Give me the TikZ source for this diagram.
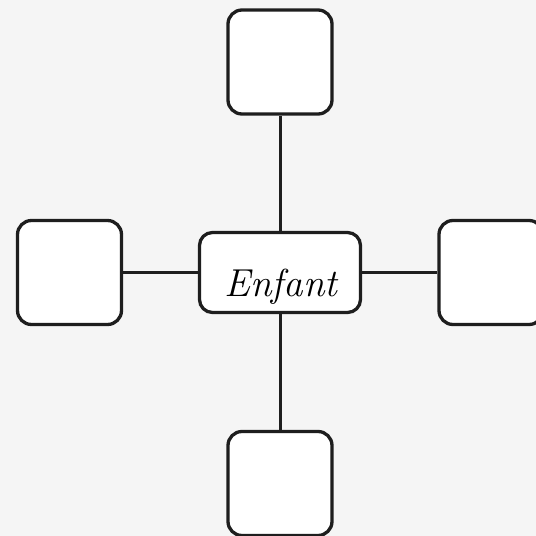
\documentclass[tikz,border=0pt]{standalone}
\definecolor{bgcol}{HTML}{F5F5F5}
\definecolor{ink}{HTML}{1E1E1E}
\tikzset{
  leaf/.style={draw=ink, line width=3.3pt, fill=white, rounded corners=14pt, minimum width=104pt, minimum height=104pt, inner sep=0pt},
  hub/.style={draw=ink, line width=3.3pt, fill=white, rounded corners=13pt, minimum width=161pt, minimum height=80pt, inner sep=0pt},
  link/.style={draw=ink, line width=3pt}
}
\begin{document}
\begin{tikzpicture}[x=1pt,y=-1pt]
\useasboundingbox (0,0) rectangle (536,536);
\clip (0,0) rectangle (536,536);
\fill[bgcol] (0,0) rectangle (536,536);
\node[hub] (c) at (280,272.5) {};
\node[inner sep=0pt, anchor=base] (ct) at (281,296) {\fontsize{39}{39}\selectfont\itshape Enfant};
\node[leaf] (t) at (280,62) {};
\node[leaf] (l) at (69.5,272.5) {};
\node[leaf] (r) at (491,272.5) {};
\node[leaf] (b) at (280,483.5) {};
\draw[link] (c.north) -- (t.south);
\draw[link] (c.south) -- (b.north);
\draw[link] (c.west) -- (l.east);
\draw[link] (c.east) -- (r.west);
\end{tikzpicture}
\end{document}
